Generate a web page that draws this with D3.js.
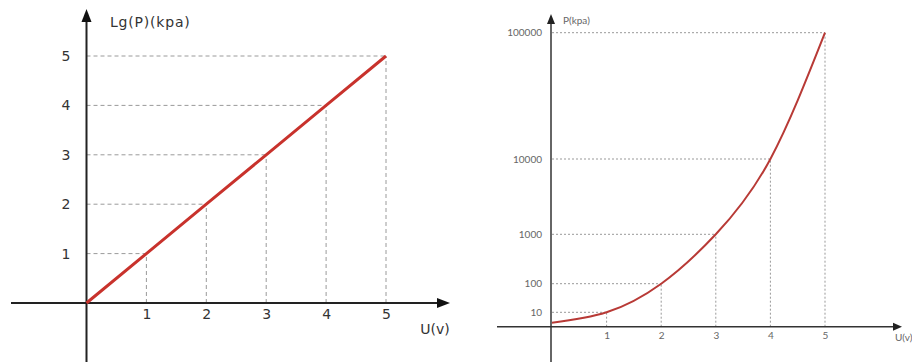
<!DOCTYPE html>
<html><head><meta charset="utf-8">
<script src="https://cdn.jsdelivr.net/npm/d3@7"></script>
<style>body{margin:0;background:#fff}svg{display:block}</style>
</head><body>
<svg id="c" width="912" height="362"></svg>
<script>
// Data
const uValues = [0, 1, 2, 3, 4, 5];
const lgPValues = [0, 1, 2, 3, 4, 5];
const pValues = [1, 10, 100, 1000, 10000, 100000];
const leftTicks = [1, 2, 3, 4, 5];
const rightYTicks = [10, 100, 1000, 10000, 100000];
const rightXTicks = [1, 2, 3, 4, 5];

const svg = d3.select("#c");
const FONT_L = "'DejaVu Sans', sans-serif";
const FONT_R = "Lato, 'DejaVu Sans', sans-serif";

// ---------- Left chart ----------
const xL = d3.scaleLinear().domain([0, 5]).range([86.5, 386]);
const yL = d3.scaleLinear().domain([0, 5]).range([303, 56]);
const gL = svg.append("g");

leftTicks.forEach(v => {
  gL.append("line").attr("x1", xL(0)).attr("x2", xL(v)).attr("y1", yL(v)).attr("y2", yL(v))
    .attr("stroke", "#9a9a9a").attr("stroke-width", 1).attr("stroke-dasharray", "4,3");
  gL.append("line").attr("x1", xL(v)).attr("x2", xL(v)).attr("y1", yL(0)).attr("y2", yL(v))
    .attr("stroke", "#9a9a9a").attr("stroke-width", 1).attr("stroke-dasharray", "4,3");
});

gL.append("line").attr("x1", 11).attr("x2", 440).attr("y1", yL(0)).attr("y2", yL(0)).attr("stroke", "#222").attr("stroke-width", 2);
gL.append("line").attr("x1", xL(0)).attr("x2", xL(0)).attr("y1", 18).attr("y2", 362).attr("stroke", "#222").attr("stroke-width", 2);
gL.append("path").attr("d", `M${xL(0)},9 L${xL(0)-5},22 L${xL(0)+5},22 Z`).attr("fill", "#111");
gL.append("path").attr("d", `M450,${yL(0)} L437,${yL(0)-5} L437,${yL(0)+5} Z`).attr("fill", "#111");

const axL_y = d3.axisLeft(yL).tickValues(leftTicks).tickSize(0).tickPadding(16).tickFormat(d3.format("d"));
const ay = gL.append("g").attr("transform", `translate(${xL(0)},0)`).call(axL_y);
ay.select(".domain").remove();
ay.selectAll("text").attr("font-family", FONT_L).attr("font-size", 14).attr("fill", "#333");

const axL_x = d3.axisBottom(xL).tickValues(leftTicks).tickSize(0).tickPadding(6).tickFormat(d3.format("d"));
const ax = gL.append("g").attr("transform", `translate(0,${yL(0)})`).call(axL_x);
ax.select(".domain").remove();
ax.selectAll("text").attr("font-family", FONT_L).attr("font-size", 14).attr("fill", "#333");

gL.append("path").datum(uValues.map((u, i) => [u, lgPValues[i]]))
  .attr("d", d3.line().x(d => xL(d[0])).y(d => yL(d[1])))
  .attr("fill", "none").attr("stroke", "#c8322c").attr("stroke-width", 3);

gL.append("text").attr("x", 110).attr("y", 27).text("Lg(P)(kpa)")
  .attr("font-family", FONT_L).attr("font-size", 14).attr("letter-spacing", 0.8).attr("fill", "#333");
gL.append("text").attr("x", 435).attr("y", 334).attr("text-anchor", "middle").text("U(v)")
  .attr("font-family", FONT_L).attr("font-size", 14).attr("fill", "#333");

// ---------- Right chart ----------
const xR = d3.scaleLinear().domain([0, 5]).range([552, 825]);
const yR = d3.scaleLog().domain(pValues).range([322.7, 312.3, 283.7, 234.3, 159, 32.7]);
const axisYR = 326.7;
const gR = svg.append("g");

rightYTicks.forEach(p => {
  const u = Math.log10(p);
  gR.append("line").attr("x1", xR(0)).attr("x2", xR(u)).attr("y1", yR(p)).attr("y2", yR(p))
    .attr("stroke", "#999").attr("stroke-width", 1).attr("stroke-dasharray", "2,2");
  gR.append("line").attr("x1", xR(u)).attr("x2", xR(u)).attr("y1", axisYR).attr("y2", yR(p))
    .attr("stroke", "#999").attr("stroke-width", 1).attr("stroke-dasharray", "2,2");
});

gR.append("line").attr("x1", 497).attr("x2", 895).attr("y1", axisYR).attr("y2", axisYR).attr("stroke", "#333").attr("stroke-width", 1.5);
gR.append("line").attr("x1", 551).attr("x2", 551).attr("y1", 20).attr("y2", 362).attr("stroke", "#333").attr("stroke-width", 1.5);
gR.append("path").attr("d", `M551,14 L547,24 L555,24 Z`).attr("fill", "#222");
gR.append("path").attr("d", `M902,${axisYR} L893,${axisYR-4} L893,${axisYR+4} Z`).attr("fill", "#222");

const axR_y = d3.axisLeft(yR).tickValues(rightYTicks).tickSize(0).tickPadding(9).tickFormat(d3.format("d"));
const ary = gR.append("g").attr("transform", `translate(551,0)`).call(axR_y);
ary.select(".domain").remove();
ary.selectAll("text").attr("font-family", FONT_R).attr("font-size", 10).attr("fill", "#666");

const axR_x = d3.axisBottom(xR).tickValues(rightXTicks).tickSize(0).tickPadding(5).tickFormat(d3.format("d"));
const arx = gR.append("g").attr("transform", `translate(0,${axisYR})`).call(axR_x);
arx.select(".domain").remove();
arx.selectAll("text").attr("font-family", FONT_R).attr("font-size", 10).attr("fill", "#666");

gR.append("path").datum(uValues.map((u, i) => [u, pValues[i]]))
  .attr("d", d3.line().x(d => xR(d[0])).y(d => yR(d[1])).curve(d3.curveNatural))
  .attr("fill", "none").attr("stroke", "#b83a36").attr("stroke-width", 2);

gR.append("text").attr("x", 563).attr("y", 24).text("P(kpa)")
  .attr("font-family", FONT_R).attr("font-size", 10).attr("fill", "#666");
gR.append("text").attr("x", 895).attr("y", 341).text("U(v)")
  .attr("font-family", FONT_R).attr("font-size", 10).attr("fill", "#666");
</script>
</body></html>
